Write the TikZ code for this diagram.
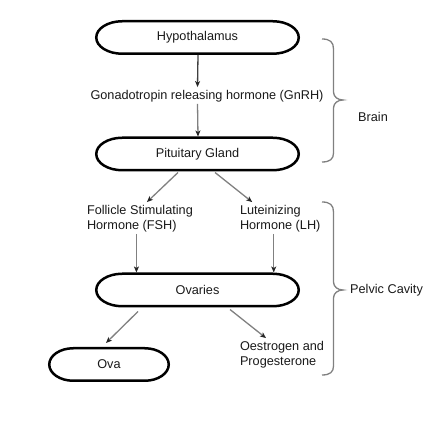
\documentclass[tikz,border=0pt]{standalone}
\usepackage{fontspec}
\setmainfont{Liberation Sans}
\usetikzlibrary{arrows.meta,calc}
\newcommand\stadiumpath[3]{%
  \draw[organline] ($(#1.center)+({-#2+#3},16.25)$) -- ++({2*(#2-#3)},0)
    arc[start angle=90,end angle=-90,x radius=#3,y radius=16.25]
    -- ++({-2*(#2-#3)},0)
    arc[start angle=270,end angle=90,x radius=#3,y radius=16.25] -- cycle;}
\begin{document}
\begin{tikzpicture}[x=1pt,y=1pt,
  every node/.style={font=\fontsize{12.7}{15}\selectfont, text=black!90},
  organ/.style={rectangle, minimum width=202.5pt, minimum height=32.5pt, inner sep=0pt, outer sep=1.25pt},
  small organ/.style={organ, minimum width=119.5pt},
  organline/.style={draw=black, line width=2.5pt},
  label text/.style={align=left, inner sep=2pt, outer sep=0pt},
  tip/.style={-{Stealth[length=6pt,width=5pt,inset=1.5pt,color=black!85]}},
  arr/.style={draw=black!75, line width=1.3pt, tip},
  garr/.style={draw=black!50, line width=1.3pt, tip},
  bracestyle/.style={draw=black!50, line width=1.3pt}
]
\useasboundingbox (0,0) rectangle (432,435);

\node[organ] (hyp) at (197.5,397.5) {Hypothalamus};
\node[label text] (gnrh) at (207,339) {Gonadotropin releasing hormone (GnRH)};
\node[organ] (pit) at (197.5,281) {Pituitary Gland};
\node[label text, anchor=west] (fsh) at (85,216.5) {Follicle Stimulating\\Hormone (FSH)};
\node[label text, anchor=west] (lh) at (238,216.5) {Luteinizing\\Hormone (LH)};
\node[organ] (ovr) at (197.5,145) {Ovaries};
\node[small organ] (ova) at (109,70.5) {Ova};
\node[label text, anchor=west] (oes) at (238,80.5) {Oestrogen and\\Progesterone};
\node[anchor=west, inner sep=0pt] (brain) at (358,318) {Brain};
\node[anchor=west, inner sep=0pt] (pelvic) at (350,145) {Pelvic Cavity};

\stadiumpath{hyp}{101.25}{26}
\stadiumpath{pit}{101.25}{26}
\stadiumpath{ovr}{101.25}{26}
\stadiumpath{ova}{59.75}{24}

% connector end points
\coordinate (fshA) at ($(fsh.south)+(-3.5,0)$);
\coordinate (lhA) at ($(lh.south)+(-6.5,0)$);

% connectors
\draw[arr] ($(hyp.south)+(0.5,0)$) -- ($(gnrh.north)+(-9.5,1)$);
\draw[garr] ($(gnrh.south)+(-9.5,0)$) -- ($(pit.north)+(0.5,0)$);
\draw[garr] ($(pit.south)+(-19.5,-1)$) -- ($(fsh.north)+(7,1)$);
\draw[garr] ($(pit.south)+(17.5,-1)$) -- ($(lh.north)+(-28,1)$);
\draw[garr] (fshA) -- (fshA |- ovr.north);
\draw[garr] (lhA) -- (lhA |- ovr.north);
\draw[garr] ($(ovr.south)+(-59.5,-4)$) -- ($(ova.north)+(-3,4)$);
\draw[garr] ($(ovr.south)+(32.5,-2)$) -- ($(oes.north)+(-16,1)$);

% braces
\draw[bracestyle] (322,396) .. controls (330,396) and (333.5,393) .. (333.5,386) -- (333.5,343)
  .. controls (333.5,338) and (338,335) .. (343,335)
  .. controls (338,335) and (333.5,332) .. (333.5,327) -- (333.5,282)
  .. controls (333.5,276) and (330,273) .. (322,273);
\draw[bracestyle] (322,233) .. controls (330,233) and (333.5,230) .. (333.5,223) -- (333.5,153)
  .. controls (333.5,148) and (338,145) .. (343,145)
  .. controls (338,145) and (333.5,142) .. (333.5,137) -- (333.5,69)
  .. controls (333.5,63) and (330,60) .. (322,60);
\end{tikzpicture}
\end{document}
